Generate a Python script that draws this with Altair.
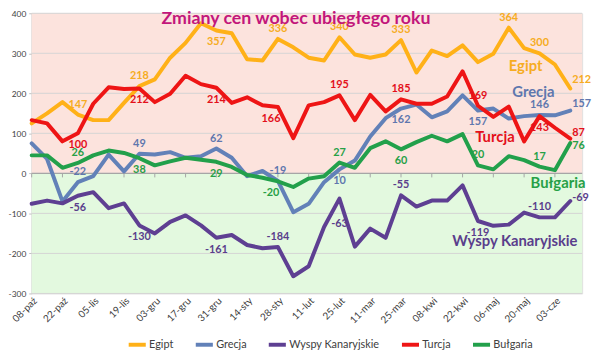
import json
import altair as alt
import pandas as pd

# ---------------- data ----------------
weeks = ["08-paź", "15-paź", "22-paź", "29-paź", "05-lis", "12-lis", "19-lis", "26-lis",
         "03-gru", "10-gru", "17-gru", "24-gru", "31-gru", "07-sty", "14-sty", "21-sty",
         "28-sty", "04-lut", "11-lut", "18-lut", "25-lut", "04-mar", "11-mar", "18-mar",
         "25-mar", "01-kwi", "08-kwi", "15-kwi", "22-kwi", "29-kwi", "06-maj", "13-maj",
         "20-maj", "27-maj", "03-cze", "10-cze"]

series_names = ["Egipt", "Grecja", "Wyspy Kanaryjskie", "Turcja", "Bułgaria"]

egipt = [125, 150, 178, 147, 133, 133, 176, 218, 235, 289, 326, 375, 357, 350, 285, 282,
         336, 315, 289, 282, 340, 297, 289, 297, 333, 252, 307, 293, 320, 278, 299, 364,
         313, 300, 272, 212]
grecja = [75, 36, -70, -22, -7, 47, 5, 49, 47, 53, 39, 43, 62, 39, -7, 6,
          -19, -97, -76, -22, 10, 32, 92, 138, 162, 172, 140, 155, 195, 157, 162, 137,
          143, 146, 145, 157]
wyspy = [-76, -68, -75, -56, -47, -87, -75, -130, -150, -121, -105, -130, -161, -154, -179, -187,
         -184, -257, -232, -134, -63, -183, -138, -161, -55, -83, -68, -68, -30, -119, -131, -128,
         -98, -110, -110, -69]
turcja = [133, 125, 80, 100, 174, 215, 211, 212, 178, 199, 244, 223, 214, 176, 190, 170,
          166, 88, 170, 178, 195, 133, 196, 155, 185, 174, 174, 192, 255, 169, 141, 167,
          80, 143, 114, 87]
bulgaria = [45, 45, 14, 26, 45, 57, 51, 38, 20, 30, 39, 34, 29, 16, -4, -11,
            -20, -34, -13, -7, 27, 14, 63, 80, 60, 78, 94, 80, 98, 20, 10, 43,
            33, 17, 8, 76]

series_values = {"Egipt": egipt, "Grecja": grecja, "Wyspy Kanaryjskie": wyspy,
                 "Turcja": turcja, "Bułgaria": bulgaria}

y_ticks = [-300, -200, -100, 0, 100, 200, 300, 400]
tick_index = list(range(0, 36, 2))

# indices of the points that carry a value label
label_idx = {
    "Egipt": [3, 7, 12, 16, 20, 24, 31, 33, 35],
    "Grecja": [3, 7, 12, 16, 20, 24, 29, 33, 35],
    "Wyspy Kanaryjskie": [3, 7, 12, 16, 20, 24, 29, 33, 35],
    "Turcja": [3, 7, 12, 16, 20, 24, 29, 33, 35],
    "Bułgaria": [3, 7, 12, 16, 20, 24, 29, 33, 35],
}
# series name annotations: (week index, value)
name_anchor = {
    "Egipt": (32.1, 268),
    "Grecja": (32.6, 204),
    "Turcja": (30.1, 91),
    "Bułgaria": (34.2, -25),
    "Wyspy Kanaryjskie": (31.4, -170),
}

# ---------------- styles ----------------
line_colors = ["#FFB118", "#6281B8", "#5E3F92", "#EE1515", "#22A04B"]
text_colors = {"Egipt": "#F6AC22", "Grecja": "#5F77AE", "Wyspy Kanaryjskie": "#5A3E8C",
               "Turcja": "#E3101A", "Bułgaria": "#27A046"}
# placement of each value label: a = above, b = below, bb = far below, l = below-left, r = right
label_pos = {
    "Egipt": ["a", "a", "b", "a", "a", "a", "a", "a", "r"],
    "Grecja": ["a", "a", "a", "a", "b", "b", "b", "a", "r"],
    "Wyspy Kanaryjskie": ["b", "b", "b", "a", "bb", "a", "b", "a", "r"],
    "Turcja": ["b", "b", "b", "l", "a", "a", "a", "b", "r"],
    "Bułgaria": ["a", "b", "b", "l", "a", "b", "a", "a", "r"],
}
pos_offset = {"a": (0, -10), "b": (0, 12), "bb": (0, 26), "l": (-7, 12)}
right_dy = {"Egipt": -9, "Grecja": -7, "Wyspy Kanaryjskie": -3, "Turcja": -6, "Bułgaria": 3}

W, H = 558, 284
FONT = "Lato"
HYPHEN_EXPR = "(datum.value < 0 ? '-' : '') + abs(datum.value)"

# ---------------- tables ----------------
rows = []
for s in series_names:
    for i, v in enumerate(series_values[s]):
        rows.append({"i": i, "week": weeks[i], "series": s, "value": v})
df = pd.DataFrame(rows)

lab_rows = []
for s in series_names:
    for k, i in enumerate(label_idx[s]):
        lab_rows.append({"i": i, "series": s, "value": series_values[s][i],
                         "pos": label_pos[s][k]})
df_lab = pd.DataFrame(lab_rows)

df_names = pd.DataFrame([{"series": s, "i": name_anchor[s][0], "value": name_anchor[s][1]}
                         for s in series_names])

df_grid = pd.DataFrame({"value": y_ticks})
df_ticks = pd.DataFrame({"i": tick_index})

label_expr = json.dumps(weeks, ensure_ascii=False) + "[datum.value]"

xscale = alt.Scale(domain=[0, 35.77], nice=False, zero=False)
yscale = alt.Scale(domain=[y_ticks[0], y_ticks[-1]], nice=False)

xaxis = alt.Axis(values=tick_index, labelExpr=label_expr, labelAngle=-45, title=None,
                 grid=False, domain=False, ticks=False, labelPadding=2,
                 labelFontSize=10, labelColor="#404040", labelFont=FONT,
                 labelOverlap=False, labelBound=False, labelFlush=False)
yaxis = alt.Axis(values=y_ticks, title=None, grid=False, domain=True, domainColor="#BFBFBF",
                 ticks=True, tickColor="#BFBFBF", tickSize=3, labelPadding=3,
                 labelFontSize=8.5, labelColor="#404040", labelFont=FONT,
                 labelExpr=HYPHEN_EXPR)

X = alt.X("i:Q", scale=xscale, axis=xaxis)
Y = alt.Y("value:Q", scale=yscale, axis=yaxis)

bg_plus = alt.Chart(pd.DataFrame({"lo": [0], "hi": [y_ticks[-1]]})).mark_rect(color="#FCE3DD").encode(
    x=alt.value(0), x2=alt.value(W),
    y=alt.Y("lo:Q", scale=yscale, axis=yaxis), y2="hi:Q")
bg_minus = alt.Chart(pd.DataFrame({"lo": [y_ticks[0]], "hi": [0]})).mark_rect(color="#E3F9DF").encode(
    x=alt.value(0), x2=alt.value(W),
    y=alt.Y("lo:Q", scale=yscale, axis=yaxis), y2="hi:Q")

grid = alt.Chart(df_grid).mark_rule(color="#D4D4D4", strokeWidth=1).encode(
    x=alt.value(0), x2=alt.value(W), y=Y)

zero = alt.Chart(df_grid[df_grid["value"] == 0]).mark_rule(color="#A6A6A6", strokeWidth=1.2).encode(
    x=alt.value(0), x2=alt.value(W), y=Y)

zticks = alt.Chart(df_ticks).mark_rule(color="#A6A6A6", strokeWidth=1).encode(
    x=X, y=alt.datum(0), y2=alt.datum(-10))

color_enc = alt.Color("series:N", scale=alt.Scale(domain=series_names, range=line_colors),
                      sort=series_names,
                      legend=alt.Legend(title=None, orient="none", direction="horizontal",
                                        legendX=96, legendY=325, symbolType="stroke",
                                        symbolStrokeWidth=4, symbolSize=300, labelFontSize=11,
                                        labelFont=FONT, labelColor="#404040", labelOffset=1,
                                        columnPadding=14, symbolOffset=0))

lines = []
for s in series_names:
    lines.append(
        alt.Chart(df).transform_filter(alt.datum.series == s)
        .mark_line(strokeWidth=4, strokeJoin="round", strokeCap="round")
        .encode(x=X, y=Y, color=color_enc)
    )

texts = []
for s in series_names:
    base = alt.Chart(df_lab).transform_filter(alt.datum.series == s).transform_calculate(
        txt=HYPHEN_EXPR)
    common = dict(font=FONT, fontWeight="bold", fontSize=11, color=text_colors[s])
    for p, (ddx, ddy) in pos_offset.items():
        if p not in label_pos[s]:
            continue
        texts.append(base.transform_filter(alt.datum.pos == p)
                     .mark_text(dx=ddx, dy=ddy, baseline="middle", **common)
                     .encode(x=X, y=Y, text="txt:N"))
    texts.append(base.transform_filter(alt.datum.pos == "r")
                 .mark_text(dx=2, dy=right_dy[s], align="left", baseline="middle", **common)
                 .encode(x=X, y=Y, text="txt:N"))

names = []
for s in series_names:
    names.append(
        alt.Chart(df_names).transform_filter(alt.datum.series == s)
        .mark_text(font=FONT, fontWeight="bold", fontSize=15, color=text_colors[s],
                   baseline="middle", align="center")
        .encode(x=X, y=Y, text="series:N")
    )

title = alt.Chart(pd.DataFrame({"t": ["Zmiany cen wobec ubiegłego roku"]})).mark_text(
    font=FONT, fontWeight="bold", fontSize=18, color="#C2167B", align="center",
    baseline="alphabetic").encode(x=alt.value(268), y=alt.value(11), text="t:N")

chart = alt.layer(bg_plus, bg_minus, grid, zero, zticks, *lines, *texts, *names, title).properties(
    width=W, height=H,
    autosize=alt.AutoSizeParams(type="none"),
    padding={"left": 24, "top": 3, "right": 10, "bottom": 57},
).configure_view(stroke=None).configure(background="white")

chart.save("out.html", embed_options={"renderer": "svg", "actions": False})
